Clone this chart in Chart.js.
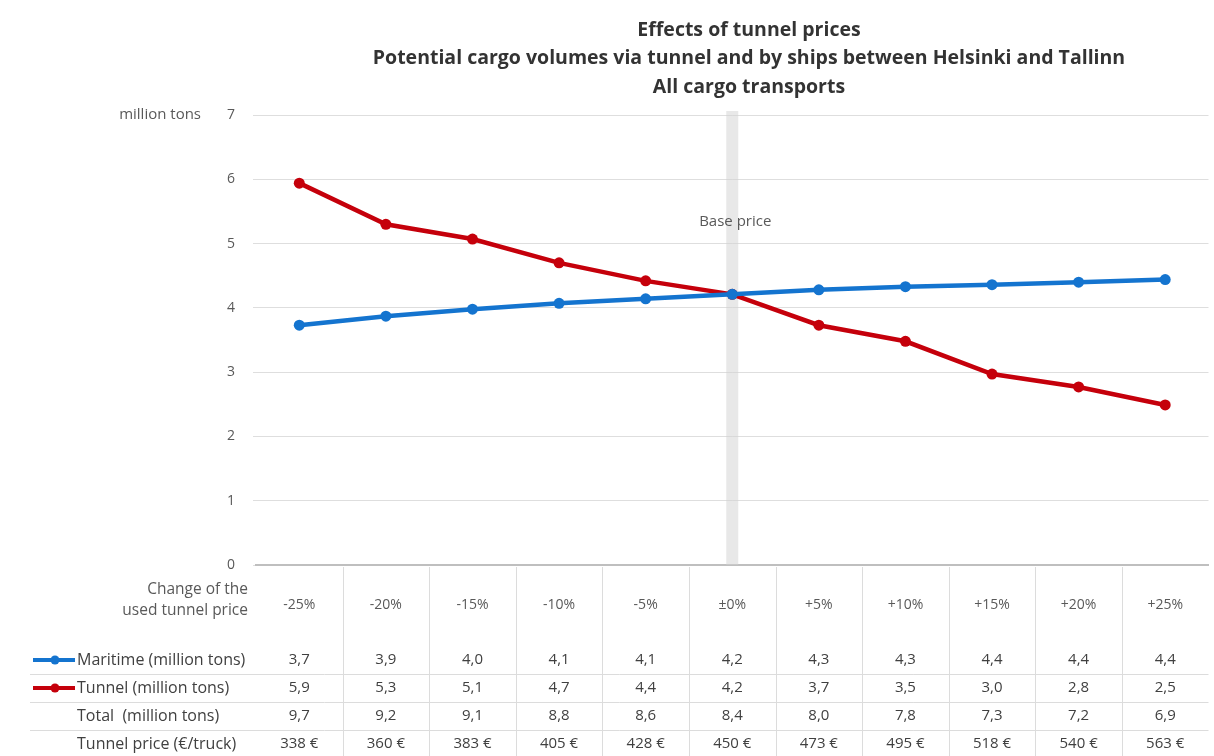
<!DOCTYPE html>
<html>
<head>
<meta charset="utf-8">
<script src="https://cdn.jsdelivr.net/npm/chart.js@4/dist/chart.umd.min.js"></script>
<style>
  html, body { margin: 0; padding: 0; background: #ffffff; }
  #wrap { width: 1214px; height: 756px; }
</style>
</head>
<body>
<div id="wrap"><canvas id="c" width="1214" height="756"></canvas></div>
<script>
const titleLines = [
  'Effects of tunnel prices',
  'Potential cargo volumes via tunnel and by ships between Helsinki and Tallinn',
  'All cargo transports'
];
const categories = ['-25%', '-20%', '-15%', '-10%', '-5%', '±0%', '+5%', '+10%', '+15%', '+20%', '+25%'];
const maritime = [3.73, 3.87, 3.98, 4.07, 4.14, 4.21, 4.28, 4.33, 4.36, 4.40, 4.44];
const tunnel = [5.94, 5.30, 5.07, 4.70, 4.42, 4.21, 3.73, 3.48, 2.97, 2.77, 2.49];
const maritimeText = ['3,7', '3,9', '4,0', '4,1', '4,1', '4,2', '4,3', '4,3', '4,4', '4,4', '4,4'];
const tunnelText = ['5,9', '5,3', '5,1', '4,7', '4,4', '4,2', '3,7', '3,5', '3,0', '2,8', '2,5'];
const totalText = ['9,7', '9,2', '9,1', '8,8', '8,6', '8,4', '8,0', '7,8', '7,3', '7,2', '6,9'];
const priceText = ['338 €', '360 €', '383 €', '405 €', '428 €', '450 €', '473 €', '495 €', '518 €', '540 €', '563 €'];
const yTicks = [0, 1, 2, 3, 4, 5, 6, 7];
const rowLabels = ['Maritime (million tons)', 'Tunnel (million tons)', 'Total  (million tons)', 'Tunnel price (€/truck)'];
const headerLabel = ['Change of the', 'used tunnel price'];
const baseIndex = 5;

const BLUE = '#1474cf';
const RED = '#c5000b';
const TXT = '#404040';
const FONT = '"Open Sans", Lato, "Liberation Sans", sans-serif';

const deco = {
  id: 'deco',
  beforeDatasetsDraw(chart) {
    const {ctx, chartArea, scales} = chart;
    const x = scales.x.getPixelForValue(baseIndex);
    ctx.save();
    ctx.fillStyle = 'rgba(210,210,210,0.5)';
    ctx.fillRect(x - 6, chartArea.top - 4, 12, chartArea.bottom - chartArea.top + 4);
    ctx.fillStyle = '#595959';
    ctx.font = '15px ' + FONT;
    ctx.textAlign = 'center';
    ctx.textBaseline = 'middle';
    ctx.fillText('Base price', x + 3, 222);
    ctx.restore();
  },
  afterDraw(chart) {
    const {ctx, chartArea, scales} = chart;
    const xs = scales.x;
    const n = categories.length;
    const w = xs.getPixelForValue(1) - xs.getPixelForValue(0);
    ctx.save();
    // title
    ctx.fillStyle = '#333333';
    ctx.textAlign = 'center';
    ctx.textBaseline = 'middle';
    ctx.font = 'bold 19.5px ' + FONT;
    const tx = 749;
    titleLines.forEach((t, i) => ctx.fillText(t, tx, 30 + i * 28.5));
    // y unit label
    ctx.font = '15px ' + FONT;
    ctx.fillStyle = '#595959';
    ctx.textAlign = 'right';
    ctx.fillText('million tons', 201, scales.y.getPixelForValue(7));

    // table grid
    const top = chartArea.bottom + 2;
    const bottom = 756;
    ctx.strokeStyle = '#dcdcdc';
    ctx.lineWidth = 1;
    for (let i = 1; i < n; i++) {
      const x = Math.round(xs.getPixelForValue(i) - w / 2) + 0.5;
      ctx.beginPath(); ctx.moveTo(x, top); ctx.lineTo(x, bottom); ctx.stroke();
    }
    const hLines = [674, 702, 730];
    hLines.forEach(y => {
      ctx.beginPath(); ctx.moveTo(30, y + 0.5); ctx.lineTo(chartArea.right, y + 0.5); ctx.stroke();
    });

    // header
    ctx.fillStyle = '#595959';
    ctx.font = '15.5px ' + FONT;
    ctx.textAlign = 'right';
    ctx.fillText(headerLabel[0], 248, 590);
    ctx.fillText(headerLabel[1], 248, 611);
    ctx.textAlign = 'center';
    ctx.font = '14px ' + FONT;
    categories.forEach((c, i) => ctx.fillText(c, xs.getPixelForValue(i), 605));

    // rows
    const rowsY = [660, 688, 716, 744];
    const rows = [maritimeText, tunnelText, totalText, priceText];
    ctx.fillStyle = TXT;
    rows.forEach((r, ri) => {
      ctx.textAlign = 'center';
      ctx.font = '15px ' + FONT;
      r.forEach((v, i) => ctx.fillText(v, xs.getPixelForValue(i), rowsY[ri]));
      ctx.textAlign = 'left';
      ctx.font = '16px ' + FONT;
      ctx.fillText(rowLabels[ri], 77, rowsY[ri]);
    });
    // legend keys
    [[BLUE, 660], [RED, 688]].forEach(([col, y]) => {
      ctx.strokeStyle = col;
      ctx.lineWidth = 4;
      ctx.beginPath(); ctx.moveTo(33, y); ctx.lineTo(75, y); ctx.stroke();
      ctx.fillStyle = col;
      ctx.beginPath(); ctx.arc(55, y, 4.5, 0, Math.PI * 2); ctx.fill();
    });
    ctx.restore();
  }
};

new Chart(document.getElementById('c'), {
  type: 'line',
  data: {
    labels: categories,
    datasets: [
      { label: 'Maritime (million tons)', data: maritime, borderColor: BLUE, backgroundColor: BLUE,
        borderWidth: 4.5, pointRadius: 5.5, pointBorderWidth: 0, pointBackgroundColor: BLUE, tension: 0 },
      { label: 'Tunnel (million tons)', data: tunnel, borderColor: RED, backgroundColor: RED,
        borderWidth: 4.5, pointRadius: 5.5, pointBorderWidth: 0, pointBackgroundColor: RED, tension: 0 }
    ]
  },
  options: {
    responsive: false,
    animation: false,
    layout: { padding: { left: 0, right: 2, top: 115, bottom: 191 } },
    plugins: { legend: { display: false }, title: { display: false }, tooltip: { enabled: false } },
    scales: {
      x: {
        offset: true,
        grid: { display: false, drawTicks: false },
        ticks: { display: false },
        border: { display: true, color: '#bfbfbf', width: 2 },
        afterFit(s) { s.height = 0; }
      },
      y: {
        min: 0, max: 7,
        afterFit(s) { s.width = 256; },
        afterBuildTicks(s) { s.ticks = yTicks.map(v => ({ value: v })); },
        ticks: { color: '#595959', font: { family: FONT, size: 14 }, padding: 18 },
        grid: { color: '#dedede', lineWidth: 1, drawTicks: true, tickLength: 3 },
        border: { display: false }
      }
    }
  },
  plugins: [deco]
});
</script>
</body>
</html>
